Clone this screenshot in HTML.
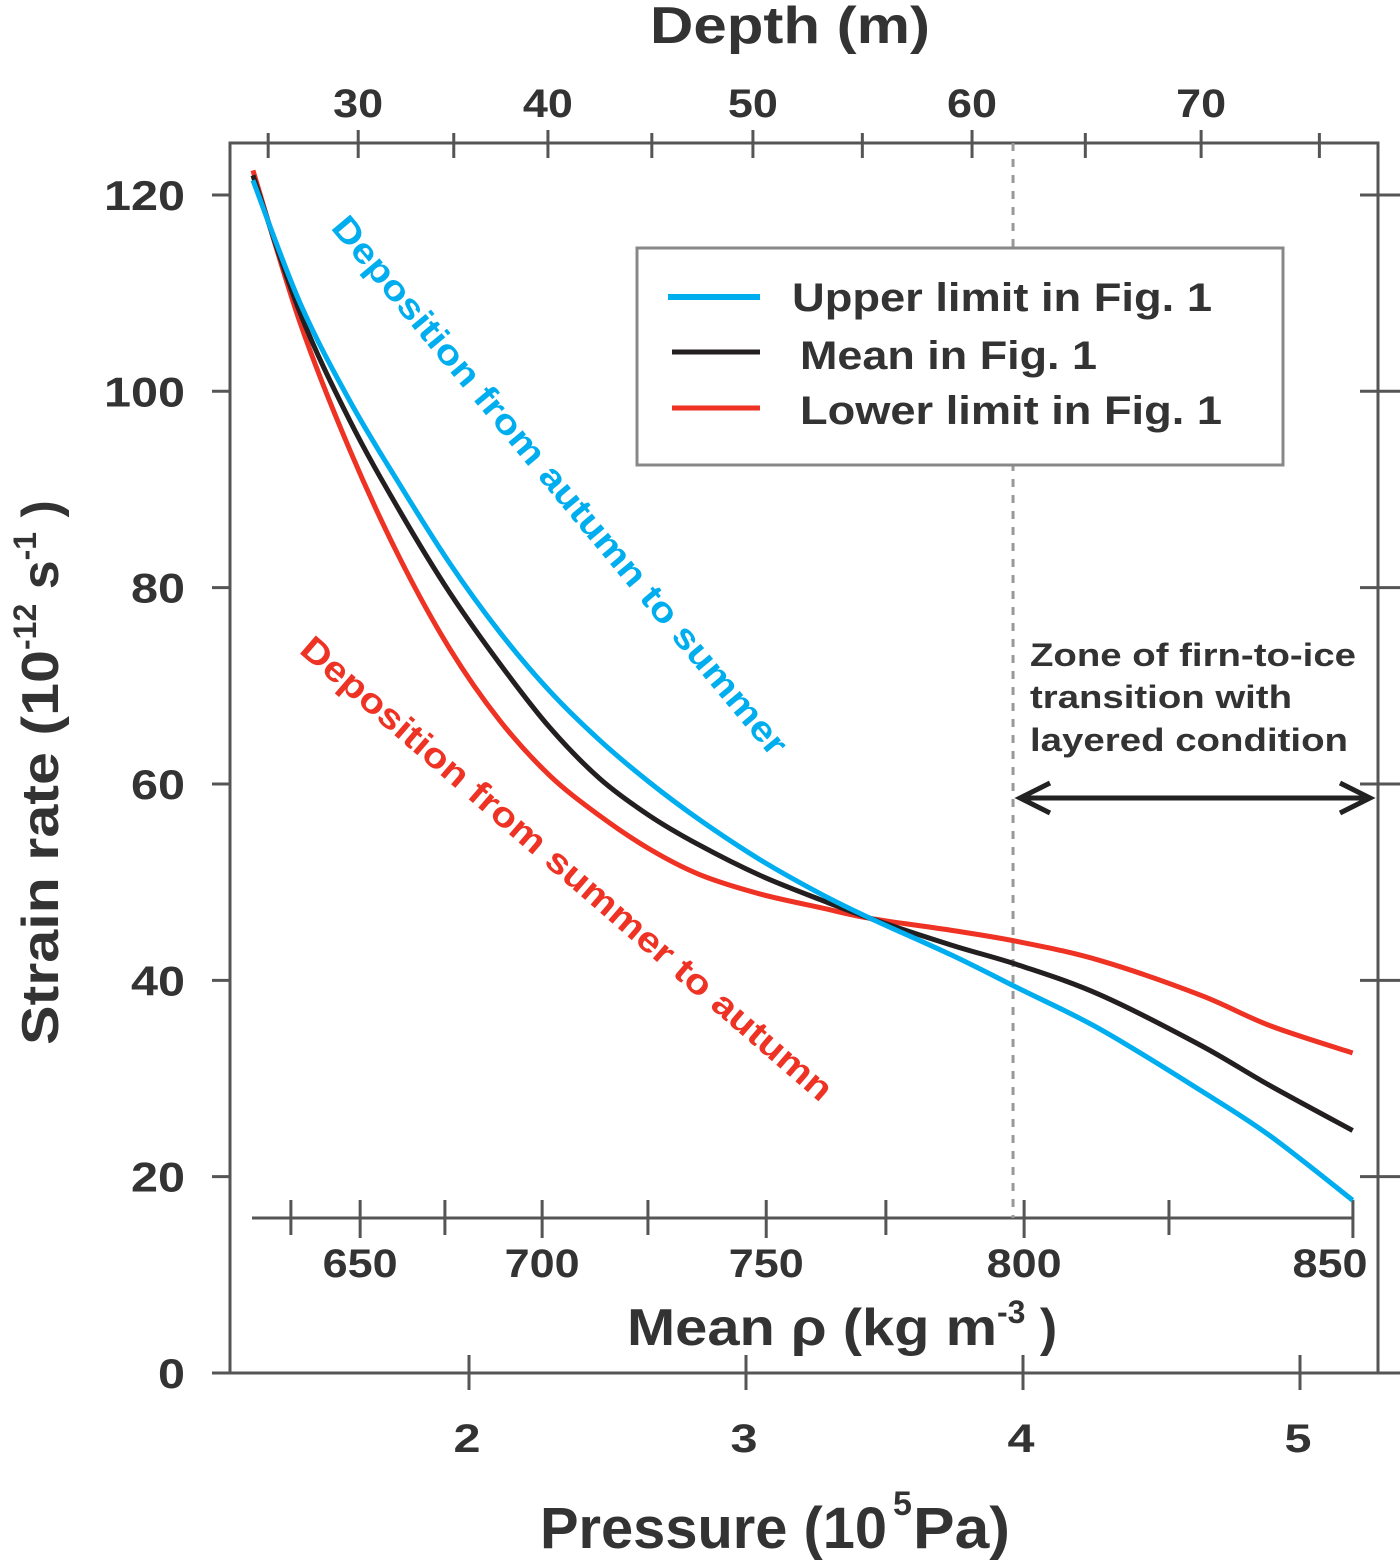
<!DOCTYPE html>
<html><head><meta charset="utf-8">
<style>
html,body{margin:0;padding:0;background:#fff;}
svg{display:block;font-family:"Liberation Sans",Arial,sans-serif;}
</style></head>
<body>
<svg id="chart" width="1400" height="1560" viewBox="0 0 1400 1560" xmlns="http://www.w3.org/2000/svg">
<g id="axes"></g>
<g id="series"></g>
<g id="labels"></g>
</svg>
<script>
// ---- data ----
const yTicks = [0,20,40,60,80,100,120];
const pressureTicks = [2,3,4,5];
const depthLabels = [30,40,50,60,70];
const depthPressures = [1.60,2.285,3.025,3.816,4.643];
const depthMinorPressures = [1.275,1.945,2.66,3.42,4.225,5.07];
const densityLabels = [650,700,750,800,850];
const densityPressures = [1.607,2.264,3.073,4.004,5.191];
const densityMinorPressures = [1.357,1.913,2.646,3.505,4.527];
const pressure = [1.22,1.39,1.57,1.75,1.93,2.11,2.29,2.47,2.65,2.83,3.05,3.27,3.45,3.74,3.99,4.28,4.64,4.89,5.19];
const upperSeries = [121.5,109,99,90.5,82.5,75.5,69.5,64.5,60.2,56.4,52.3,48.8,46.3,42.6,39.1,35,28.8,24.2,17.6];
const meanSeries  = [122,108,97,87.8,79.5,72.3,65.8,60.6,56.8,53.8,50.7,48.2,46.3,43.6,41.5,38.5,33.4,29.3,24.7];
const lowerSeries = [122.5,107,94,83,73.8,66.5,60.9,56.8,53.4,50.8,48.8,47.4,46.3,45.1,43.9,42,38.5,35.4,32.6];
const transitionPressure = 3.964;

// ---- scales ----
const X = p => 469 + (p-2)*277;
const Y = v => 1373 - v*9.817;
const NS='http://www.w3.org/2000/svg';
function mk(tag, parent, attrs, text){
  const e=document.createElementNS(NS,tag);
  for(const k in attrs) e.setAttribute(k,attrs[k]);
  if(text!==undefined) e.textContent=text;
  parent.appendChild(e); return e;
}
const axes=document.getElementById('axes'), series=document.getElementById('series'), labels=document.getElementById('labels');
const AX='#555';
function lbl(x,y,s,cw){
  return mk('text',labels,{x:x,y:y,'text-anchor':'middle','font-size':40,'font-weight':'bold',fill:'#333',textLength:s.length*cw,lengthAdjust:'spacingAndGlyphs'},s);
}

const frame=mk('rect',axes,{x:230,y:143,width:1148,height:1230,fill:'none',stroke:AX,'stroke-width':3});



yTicks.forEach(v=>{
  const t=mk('line',axes,{x1:212,x2:230,y1:Y(v),y2:Y(v),stroke:AX,'stroke-width':3});
  
  
  const r=mk('line',axes,{x1:1360,x2:1400,y1:Y(v),y2:Y(v),stroke:AX,'stroke-width':3});
  
  
  const s=String(v);
  const l=mk('text',labels,{x:185,y:Y(v)+15,'text-anchor':'end','font-size':42,'font-weight':'bold',fill:'#333',textLength:s.length*27,lengthAdjust:'spacingAndGlyphs'},s);
  
  
});
pressureTicks.forEach(p=>{
  const t=mk('line',axes,{x1:X(p),x2:X(p),y1:1355,y2:1390,stroke:AX,'stroke-width':3});
  
  
  const l=lbl(X(p)-2,1452,String(p),27);
  
  
});
depthLabels.forEach((d,i)=>{
  const p=depthPressures[i];
  const t=mk('line',axes,{x1:X(p),x2:X(p),y1:130,y2:158,stroke:AX,'stroke-width':3});
  
  
  const l=lbl(X(p),117,String(d),25);
  
  
});
depthMinorPressures.forEach(p=>{
  const t=mk('line',axes,{x1:X(p),x2:X(p),y1:133,y2:158,stroke:AX,'stroke-width':3});
  
  
});
const dAxis=mk('line',axes,{x1:252,x2:1354,y1:1218,y2:1218,stroke:AX,'stroke-width':3});


densityLabels.forEach((d,i)=>{
  const p=densityPressures[i];
  const t=mk('line',axes,{x1:X(p),x2:X(p),y1:1200,y2:1238,stroke:AX,'stroke-width':3});
  
  
  const l=lbl(Math.min(X(p),1330),1277,String(d),25);
  
  
});
densityMinorPressures.forEach(p=>{
  const t=mk('line',axes,{x1:X(p),x2:X(p),y1:1200,y2:1235,stroke:AX,'stroke-width':3});
  
  
});
const dash=mk('line',axes,{x1:X(transitionPressure),x2:X(transitionPressure),y1:143,y2:1218,stroke:'#999','stroke-width':3,'stroke-dasharray':'8,8'});



function pathFor(vals){
  const pts=pressure.map((p,i)=>[X(p),Y(vals[i])]);
  let d='M'+pts[0][0]+','+pts[0][1];
  for(let i=0;i<pts.length-1;i++){
    const p0=pts[Math.max(0,i-1)],p1=pts[i],p2=pts[i+1],p3=pts[Math.min(pts.length-1,i+2)];
    const c1=[p1[0]+(p2[0]-p0[0])/6,p1[1]+(p2[1]-p0[1])/6];
    const c2=[p2[0]-(p3[0]-p1[0])/6,p2[1]-(p3[1]-p1[1])/6];
    d+=` C${c1[0]},${c1[1]} ${c2[0]},${c2[1]} ${p2[0]},${p2[1]}`;
  }
  return d;
}
const lowerLine=mk('path',series,{d:pathFor(lowerSeries),fill:'none',stroke:'#ee3224','stroke-width':5});


const meanLine=mk('path',series,{d:pathFor(meanSeries),fill:'none',stroke:'#231f20','stroke-width':5});


const upperLine=mk('path',series,{d:pathFor(upperSeries),fill:'none',stroke:'#00aeef','stroke-width':5});


</script>
<svg style="position:absolute;left:0;top:0" width="1400" height="1560" xmlns="http://www.w3.org/2000/svg" font-family="Liberation Sans, Arial, sans-serif">
  <g>
    <rect x="637" y="248" width="646" height="217" fill="#fff" stroke="#888" stroke-width="3"/>
    <line x1="668" x2="760" y1="297" y2="297" stroke="#00aeef" stroke-width="6"/>
    <text x="792" y="311" font-size="40" font-weight="bold" fill="#333" textLength="420" lengthAdjust="spacingAndGlyphs">Upper limit in Fig. 1</text>
    <line x1="672" x2="760" y1="352" y2="352" stroke="#231f20" stroke-width="5"/>
    <text x="800" y="369" font-size="40" font-weight="bold" fill="#333" textLength="297" lengthAdjust="spacingAndGlyphs">Mean in Fig. 1</text>
    <line x1="672" x2="760" y1="408" y2="408" stroke="#ee3224" stroke-width="5"/>
    <text x="800" y="424" font-size="40" font-weight="bold" fill="#333" textLength="422" lengthAdjust="spacingAndGlyphs">Lower limit in Fig. 1</text>
  </g>
  <text x="650" y="43" font-size="52" font-weight="bold" fill="#333" textLength="280" lengthAdjust="spacingAndGlyphs">Depth (m)</text>
  <text transform="translate(58,1045) rotate(-90)" font-size="52" font-weight="bold" fill="#333"><tspan textLength="395" lengthAdjust="spacingAndGlyphs">Strain rate (10</tspan><tspan font-size="32" dy="-22">-12</tspan><tspan dy="22"> s</tspan><tspan font-size="32" dy="-22">-1</tspan><tspan dy="22"> )</tspan></text>
  <text x="627" y="1345" font-size="52" font-weight="bold" fill="#333"><tspan textLength="370" lengthAdjust="spacingAndGlyphs">Mean ρ (kg m</tspan><tspan font-size="32" dy="-22">-3</tspan><tspan dy="22"> )</tspan></text>
  <g font-size="58" font-weight="bold" fill="#333">
    <text x="540" y="1548" textLength="347" lengthAdjust="spacingAndGlyphs">Pressure (10</text>
    <text x="893" y="1515" font-size="34">5</text>
    <text x="913" y="1548" textLength="97" lengthAdjust="spacingAndGlyphs">Pa)</text>
  </g>
  <text transform="translate(330,228) rotate(50.2)" font-size="35" font-weight="bold" fill="#00aeef" textLength="690" lengthAdjust="spacingAndGlyphs">Deposition from autumn to summer</text>
  <text transform="translate(298,652) rotate(40.8)" font-size="35" font-weight="bold" fill="#ee3224" textLength="690" lengthAdjust="spacingAndGlyphs">Deposition from summer to autumn</text>
  <g font-size="32" font-weight="bold" fill="#333">
    <text x="1030" y="666" textLength="326" lengthAdjust="spacingAndGlyphs">Zone of firn-to-ice</text>
    <text x="1030" y="708" textLength="262" lengthAdjust="spacingAndGlyphs">transition with</text>
    <text x="1030" y="751" textLength="318" lengthAdjust="spacingAndGlyphs">layered condition</text>
  </g>
  <g stroke="#222" stroke-width="5" fill="none">
    <line x1="1020" x2="1370" y1="798" y2="798"/>
    <polyline points="1050,783 1020,798 1050,813"/>
    <polyline points="1340,783 1370,798 1340,813"/>
  </g>
</svg>
</body></html>
